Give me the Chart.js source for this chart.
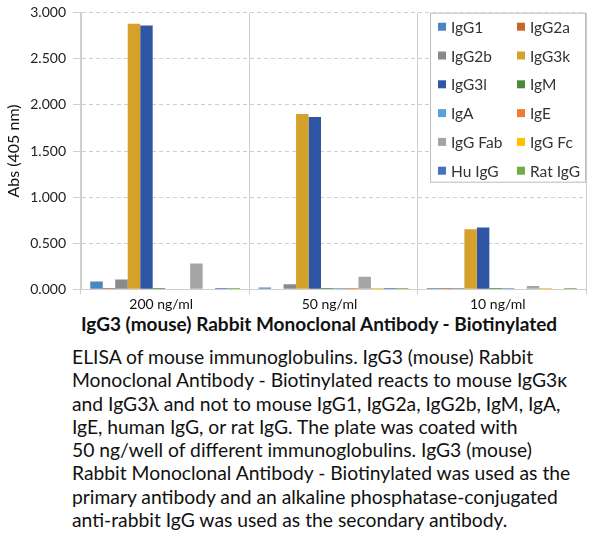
<!DOCTYPE html>
<html>
<head>
<meta charset="utf-8">
<script src="https://cdn.jsdelivr.net/npm/chart.js@4/dist/chart.umd.min.js"></script>
<style>
  body { margin: 0; background: #fff; font-family: Lato, sans-serif; }
  #wrap { position: relative; width: 598px; height: 540px; }
  #chartBox { position: absolute; left: 0; top: 0; width: 598px; height: 312px; }
  #title { position: absolute; left: 20px; top: 312px; width: 598px; text-align: center;
           font-weight: bold; font-size: 19px; color: #111; }
  #caption { position: absolute; left: 72px; top: 345px; font-size: 19.3px; line-height: 23.3px; color: #111; white-space: nowrap; }
</style>
</head>
<body>
<div id="wrap">
  <div id="chartBox"><canvas id="elisaChart"></canvas></div>
  <div id="title">IgG3 (mouse) Rabbit Monoclonal Antibody - Biotinylated</div>
  <div id="caption">ELISA of mouse immunoglobulins. IgG3 (mouse) Rabbit<br>Monoclonal Antibody - Biotinylated reacts to mouse IgG3κ<br>and IgG3λ and not to mouse IgG1, IgG2a, IgG2b, IgM, IgA,<br>IgE, human IgG, or rat IgG. The plate was coated with<br>50 ng/well of different immunoglobulins. IgG3 (mouse)<br>Rabbit Monoclonal Antibody - Biotinylated was used as the<br>primary antibody and an alkaline phosphatase-conjugated<br>anti-rabbit IgG was used as the secondary antibody.</div>
</div>
<script>
// Concentrações (eixo x)
const concentracoes = ['200 ng/ml', '50 ng/ml', '10 ng/ml'];

// Séries (uma por imunoglobulina)
const series = ['IgG1', 'IgG2a', 'IgG2b', 'IgG3k', 'IgG3l', 'IgM', 'IgA', 'IgE', 'IgG Fab', 'IgG Fc', 'Hu IgG', 'Rat IgG'];
const igg1   = [0.085, 0.02, 0.015];
const igg2a  = [0.015, 0, 0.015];
const igg2b  = [0.105, 0.055, 0.015];
const igg3k  = [2.88, 1.90, 0.65];
const igg3l  = [2.86, 1.87, 0.67];
const igm    = [0.015, 0.015, 0.015];
const iga    = [0, 0.015, 0.015];
const ige    = [0, 0.015, 0];
const iggFab = [0.28, 0.135, 0.035];
const iggFc  = [0, 0.015, 0.015];
const huIgg  = [0.015, 0.015, 0];
const ratIgg = [0.015, 0.015, 0.015];
const valores = [igg1, igg2a, igg2b, igg3k, igg3l, igm, iga, ige, iggFab, iggFc, huIgg, ratIgg];

const cores = ['#4a86c0', '#c8652a', '#8a8a8a', '#d6a12a', '#2f56a5', '#4c8a3a',
               '#5aa2dc', '#ee7d32', '#a5a5a5', '#ffc000', '#4472c4', '#71ad47'];

// Eixo y
const yTicks = [0, 0.5, 1, 1.5, 2, 2.5, 3];

const gridCor = '#cfcfcf';

// Legenda desenhada dentro da área do gráfico (2 colunas)
const legendaInterna = {
  id: 'legendaInterna',
  afterDraw(chart) {
    const { ctx, chartArea } = chart;
    const x0 = 430, y0 = chartArea.top, w = chartArea.right - x0, h = 170;
    ctx.save();
    ctx.fillStyle = '#fff';
    ctx.fillRect(x0, y0, w, h);
    ctx.strokeStyle = '#bdbdbd';
    ctx.lineWidth = 1;
    ctx.strokeRect(x0 + 0.5, y0 + 0.5, w - 1, h - 1);
    ctx.font = '15.5px Lato, sans-serif';
    ctx.textBaseline = 'middle';
    chart.data.datasets.forEach((ds, i) => {
      const col = i % 2, row = Math.floor(i / 2);
      const sx = x0 + 8 + col * 79;
      const sy = y0 + 14 + row * 28.8;
      ctx.fillStyle = ds.backgroundColor;
      ctx.fillRect(sx, sy - 4, 8, 8);
      ctx.fillStyle = '#333';
      ctx.fillText(ds.label, sx + 13, sy + 1);
    });
    ctx.restore();
  }
};

new Chart(document.getElementById('elisaChart'), {
  type: 'bar',
  data: {
    labels: concentracoes,
    datasets: series.map((nome, i) => ({
      label: nome,
      data: valores[i],
      backgroundColor: cores[i],
      borderWidth: 0,
      categoryPercentage: 0.89,
      barPercentage: 1
    }))
  },
  options: {
    responsive: true,
    maintainAspectRatio: false,
    animation: false,
    layout: { padding: { top: 12.7, right: 12, left: 0, bottom: 0 } },
    plugins: {
      legend: { display: false },
      tooltip: { enabled: false }
    },
    scales: {
      x: {
        grid: { color: gridCor, offset: true, tickLength: 5, lineWidth: 1 },
        border: { color: gridCor, width: 1 },
        ticks: { color: '#111', font: { family: 'Lato', size: 14 }, padding: 2, labelOffset: -4 },
        afterFit(scale) { scale.height = 312 - 289.3; }
      },
      y: {
        min: 0,
        max: 3,
        afterBuildTicks(scale) { scale.ticks = yTicks.map(v => ({ value: v })); },
        grid: { color: gridCor, tickLength: 8, drawTicks: true },
        border: { color: gridCor, width: 1, dash: [4, 3] },
        ticks: {
          color: '#222',
          font: { family: 'Lato', size: 14 },
          padding: 7,
          callback: v => v.toFixed(3)
        },
        title: {
          display: true,
          text: 'Abs (405 nm)',
          color: '#111',
          font: { family: 'Lato', size: 16 },
          padding: { top: 4, bottom: 0 }
        },
        afterFit(scale) {
          scale.width = 81;
          scale.paddingTop = 0;
          scale.paddingBottom = 0;
        }
      }
    }
  },
  plugins: [legendaInterna]
});
</script>
</body>
</html>
